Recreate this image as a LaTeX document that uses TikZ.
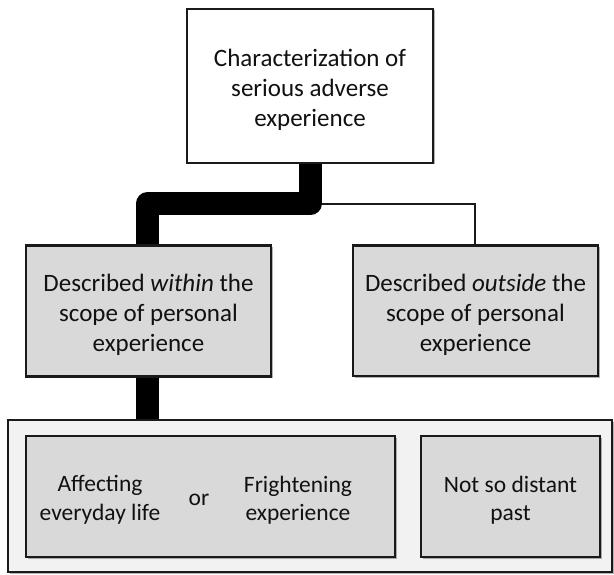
\documentclass[tikz,border=0pt]{standalone}
\usepackage{fontspec}
\setmainfont{Carlito}
\usetikzlibrary{shadows}
\definecolor{boxgray}{HTML}{D9D9D9}
\definecolor{outergray}{HTML}{F2F2F2}
\definecolor{edge}{HTML}{1A1A1A}
\definecolor{ink}{HTML}{111111}
\tikzset{
  shad/.style={drop shadow={shadow xshift=1.5pt, shadow yshift=-1.5pt, fill=black, opacity=0.3}},
  boxbase/.style={draw=edge, line width=1.5pt, rectangle, inner sep=0pt, shad},
  whitebox/.style={boxbase, fill=white},
  graybox/.style={boxbase, fill=boxgray},
  outerbox/.style={boxbase, fill=outergray},
  bigtext/.style={align=center, inner sep=0pt, text=ink, font=\fontsize{25}{30}\selectfont},
  smalltext/.style={align=center, inner sep=0pt, text=ink, font=\fontsize{23.5}{28.5}\selectfont},
  thickline/.style={line width=23pt, line join=round, line cap=butt},
  thinline/.style={line width=2pt, draw=edge},
  edgeline/.style={draw=edge, line width=1.5pt},
}
\begin{document}
\begin{tikzpicture}[x=1pt,y=-1pt]
\useasboundingbox (0,0) rectangle (614,575);
% boxes
\node[whitebox, minimum width=246pt, minimum height=154pt] (top) at (310,86) {};
\node[graybox, minimum width=245pt, minimum height=130pt] (left) at (148.5,311) {};
\node[graybox, minimum width=245pt, minimum height=130pt] (right) at (475.5,311) {};
\node[outerbox, minimum width=604pt, minimum height=152pt] (outer) at (310,496) {};
\node[graybox, minimum width=369pt, minimum height=121pt] (inl) at (210.5,496.5) {};
\node[graybox, minimum width=179pt, minimum height=121pt] (inr) at (510.5,496.5) {};
% texts
\node[bigtext] (toptext) at (310,90) {Characterization of\\serious adverse\\experience};
\node[bigtext] (lefttext) at (148.5,315) {Described \textit{within} the\\scope of personal\\experience};
\node[bigtext] (righttext) at (475.5,315) {Described \textit{outside} the\\scope of personal\\experience};
\node[smalltext] (aff) at (100,500) {Affecting\\everyday life};
\node[smalltext] (or) at (199,500) {or};
\node[smalltext] (fri) at (298,500) {Frightening\\experience};
\node[smalltext] (past) at (510.5,500) {Not so distant\\past};
% connectors
\coordinate (j) at (310,204);
\coordinate (jl) at (147,204);
\coordinate (jr) at (475,204);
\draw[thinline] (j) -- (jr) -- (right.north -| jr);
\draw[thickline] (top.south) -- (j) -- (jl) -- (left.north -| jl);
\draw[thickline] (left.south -| jl) -- (outer.north -| jl);
% box borders over the line ends
\draw[edgeline] (top.south west) -- (top.south east);
\draw[edgeline] (left.north west) -- (left.north east);
\draw[edgeline] (left.south west) -- (left.south east);
\draw[edgeline] (right.north west) -- (right.north east);
\draw[edgeline] (outer.north west) -- (outer.north east);
\end{tikzpicture}
\end{document}
